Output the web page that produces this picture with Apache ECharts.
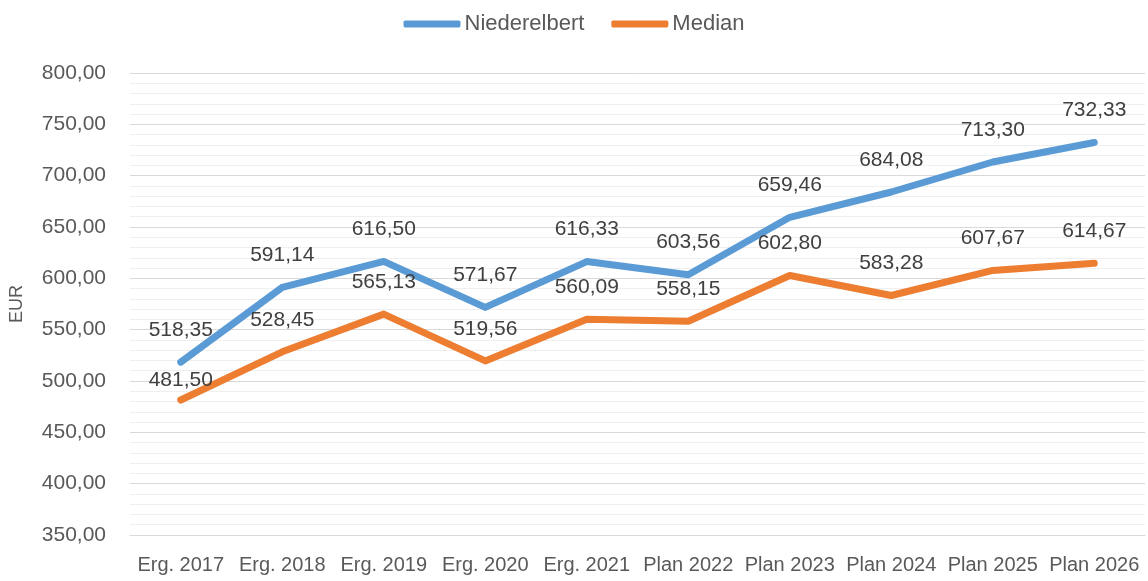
<!DOCTYPE html>
<html>
<head>
<meta charset="utf-8">
<script src="https://cdn.jsdelivr.net/npm/echarts@6/dist/echarts.min.js"></script>
<style>
  html, body { margin: 0; padding: 0; background: #fff; }
  #chart { width: 1148px; height: 581px; }
</style>
</head>
<body>
<div id="chart"></div>
<script>
// Kategorien und Werte
const categories = ['Erg. 2017', 'Erg. 2018', 'Erg. 2019', 'Erg. 2020', 'Erg. 2021',
  'Plan 2022', 'Plan 2023', 'Plan 2024', 'Plan 2025', 'Plan 2026'];
const niederelbert = [518.35, 591.14, 616.50, 571.67, 616.33, 603.56, 659.46, 684.08, 713.30, 732.33];
const median = [481.50, 528.45, 565.13, 519.56, 560.09, 558.15, 602.80, 583.28, 607.67, 614.67];

const fmt = v => v.toFixed(2).replace('.', ',');
const font = 'Liberation Sans';

function lineSeries(name, values, color, distances) {
  return {
    name: name,
    type: 'line',
    symbol: 'circle',
    symbolSize: 1,
    showAllSymbol: true,
    itemStyle: { color: color },
    lineStyle: { color: color, width: 7, cap: 'round', join: 'round' },
    label: {
      show: true,
      position: 'top',
      distance: 21,
      color: '#404040',
      fontFamily: font,
      fontSize: 21,
      formatter: p => fmt(p.value)
    },
    data: values.map((v, i) => distances && distances[i] != null
      ? { value: v, label: { distance: distances[i] } }
      : v),
    z: 3
  };
}

let myChart = echarts.init(document.getElementById('chart'));
let option = {
  animation: false,
  legend: {
    top: 8,
    left: 'center',
    icon: 'roundRect',
    itemWidth: 57,
    itemHeight: 7,
    itemGap: 27,
    textStyle: { color: '#595959', fontFamily: font, fontSize: 22, padding: [0, 0, 0, -1] },
    data: ['Niederelbert', 'Median']
  },
  grid: { left: 129, right: 3, top: 73, bottom: 46 },
  xAxis: {
    type: 'category',
    boundaryGap: true,
    data: categories,
    axisLine: { show: true, lineStyle: { color: '#d9d9d9', width: 1 } },
    axisTick: { show: false },
    axisLabel: { color: '#595959', fontFamily: font, fontSize: 20, margin: 20, interval: 0 }
  },
  yAxis: {
    type: 'value',
    min: 350,
    max: 800,
    interval: 50,
    name: 'EUR',
    nameLocation: 'middle',
    nameGap: 104,
    nameRotate: 90,
    nameTextStyle: { color: '#595959', fontFamily: font, fontSize: 18 },
    axisLine: { show: false },
    axisTick: { show: false },
    axisLabel: { color: '#595959', fontFamily: font, fontSize: 21, margin: 24, formatter: v => fmt(v) },
    splitLine: { show: true, lineStyle: { color: '#d9d9d9', width: 1 } },
    minorTick: { show: false, splitNumber: 5 },
    minorSplitLine: { show: true, lineStyle: { color: '#efefef', width: 1 } }
  },
  series: [
    lineSeries('Niederelbert', niederelbert, '#5b9bd5'),
    lineSeries('Median', median, '#ed7d31', [9])
  ]
};
myChart.setOption(option);
</script>
</body>
</html>
